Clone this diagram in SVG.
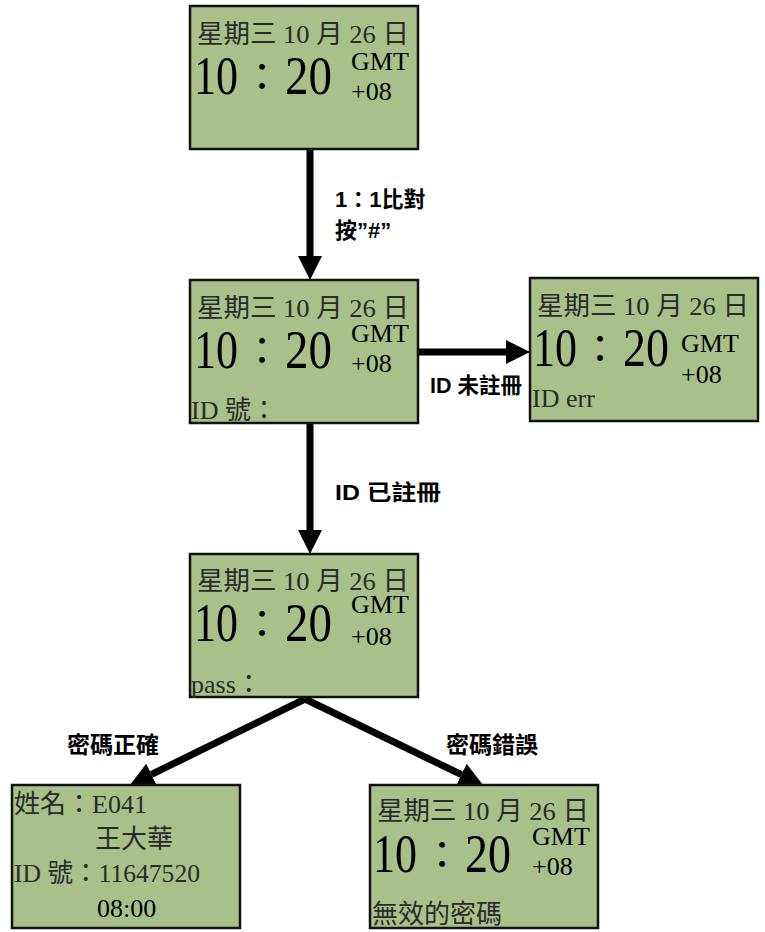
<svg xmlns="http://www.w3.org/2000/svg" width="765" height="932" viewBox="0 0 765 932">
<style>
.box{fill:#a9c08b;stroke:#111;stroke-width:2.5}
.sm{font-family:"Liberation Serif","Noto Sans CJK TC",serif;font-size:26px;fill:#2a2a2a}
.big{font-family:"Liberation Serif","Noto Sans CJK TC",serif;font-size:54px;fill:#000}
.col{font-size:38px}
.gmt{font-family:"Liberation Serif",serif;font-size:26px;fill:#000}
.lbl{font-family:"Liberation Sans","Noto Sans CJK TC",sans-serif;font-size:22px;font-weight:600;fill:#000}
.arr{stroke:#000;stroke-width:7;fill:none;marker-end:url(#ah)}
</style>
<defs>
<marker id="ah" markerUnits="userSpaceOnUse" markerWidth="26" markerHeight="26" refX="0" refY="12" orient="auto" viewBox="0 0 26 26">
<path d="M0,0 L24,12 L0,24 z" fill="#000"/>
</marker>
</defs>
<g id="connectors">
<line class="arr" x1="310" y1="149" x2="310" y2="256"/>
<line class="arr" x1="418" y1="352" x2="506" y2="352"/>
<line class="arr" x1="310" y1="424" x2="310" y2="530"/>
<line class="arr" x1="305" y1="699" x2="151.5" y2="774.4"/>
<line class="arr" x1="305" y1="699" x2="461.4" y2="774.6"/>
<text class="lbl" x="335" y="207">1：1比對</text>
<text class="lbl" x="335" y="238">按”#”</text>
<text class="lbl" x="430" y="393" textLength="92" lengthAdjust="spacingAndGlyphs">ID 未註冊</text>
<text class="lbl" x="335" y="500" textLength="106" lengthAdjust="spacingAndGlyphs">ID 已註冊</text>
<text class="lbl" x="67" y="753" style="font-size:23px">密碼正確</text>
<text class="lbl" x="446" y="753" style="font-size:23px">密碼錯誤</text>
</g>
<g id="node1" transform="translate(190,6)">
<rect class="box" width="228" height="143"/>
<text class="sm" x="7" y="37" textLength="212" lengthAdjust="spacingAndGlyphs">星期三 10 月 26 日</text>
<text class="big" y="88"><tspan x="4" textLength="44" lengthAdjust="spacingAndGlyphs">10</tspan><tspan class="col" x="53" y="84">：</tspan><tspan x="95" y="88" textLength="47" lengthAdjust="spacingAndGlyphs">20</tspan></text>
<text class="gmt" x="161" y="64">GMT</text>
<text class="gmt" x="161" y="94">+08</text>
</g>
<g id="node2" transform="translate(190,280)">
<rect class="box" width="228" height="143"/>
<text class="sm" x="7" y="37" textLength="212" lengthAdjust="spacingAndGlyphs">星期三 10 月 26 日</text>
<text class="big" y="88"><tspan x="4" textLength="44" lengthAdjust="spacingAndGlyphs">10</tspan><tspan class="col" x="53" y="84">：</tspan><tspan x="95" y="88" textLength="47" lengthAdjust="spacingAndGlyphs">20</tspan></text>
<text class="gmt" x="161" y="62">GMT</text>
<text class="gmt" x="161" y="92">+08</text>
<text class="sm" x="1" y="139">ID 號：</text>
</g>
<g id="node3" transform="translate(530,278)">
<rect class="box" width="228" height="143"/>
<text class="sm" x="7" y="37" textLength="212" lengthAdjust="spacingAndGlyphs">星期三 10 月 26 日</text>
<text class="big" y="88"><tspan x="3" textLength="44" lengthAdjust="spacingAndGlyphs">10</tspan><tspan class="col" x="51" y="84">：</tspan><tspan x="93" y="88" textLength="46" lengthAdjust="spacingAndGlyphs">20</tspan></text>
<text class="gmt" x="151" y="74">GMT</text>
<text class="gmt" x="151" y="105">+08</text>
<text class="sm" x="2" y="129">ID err</text>
</g>
<g id="node4" transform="translate(190,554)">
<rect class="box" width="228" height="143"/>
<text class="sm" x="7" y="36" textLength="212" lengthAdjust="spacingAndGlyphs">星期三 10 月 26 日</text>
<text class="big" y="87"><tspan x="4" textLength="44" lengthAdjust="spacingAndGlyphs">10</tspan><tspan class="col" x="53" y="83">：</tspan><tspan x="95" y="87" textLength="47" lengthAdjust="spacingAndGlyphs">20</tspan></text>
<text class="gmt" x="161" y="59">GMT</text>
<text class="gmt" x="161" y="91">+08</text>
<text class="sm" x="1" y="139">pass：</text>
</g>
<g id="node5" transform="translate(12,785)">
<rect class="box" width="228" height="143"/>
<text class="sm" x="2" y="28">姓名：E041</text>
<text class="sm" x="83" y="63">王大華</text>
<text class="sm" x="2" y="97" textLength="186" lengthAdjust="spacingAndGlyphs">ID 號：11647520</text>
<text class="sm" x="85" y="132" style="fill:#000">08:00</text>
</g>
<g id="node6" transform="translate(370,785)">
<rect class="box" width="228" height="143"/>
<text class="sm" x="7" y="35" textLength="212" lengthAdjust="spacingAndGlyphs">星期三 10 月 26 日</text>
<text class="big" y="87"><tspan x="3" textLength="44" lengthAdjust="spacingAndGlyphs">10</tspan><tspan class="col" x="53" y="83">：</tspan><tspan x="95" y="87" textLength="46" lengthAdjust="spacingAndGlyphs">20</tspan></text>
<text class="gmt" x="162" y="60">GMT</text>
<text class="gmt" x="162" y="90">+08</text>
<text class="sm" x="2" y="138">無效的密碼</text>
</g>
</svg>
